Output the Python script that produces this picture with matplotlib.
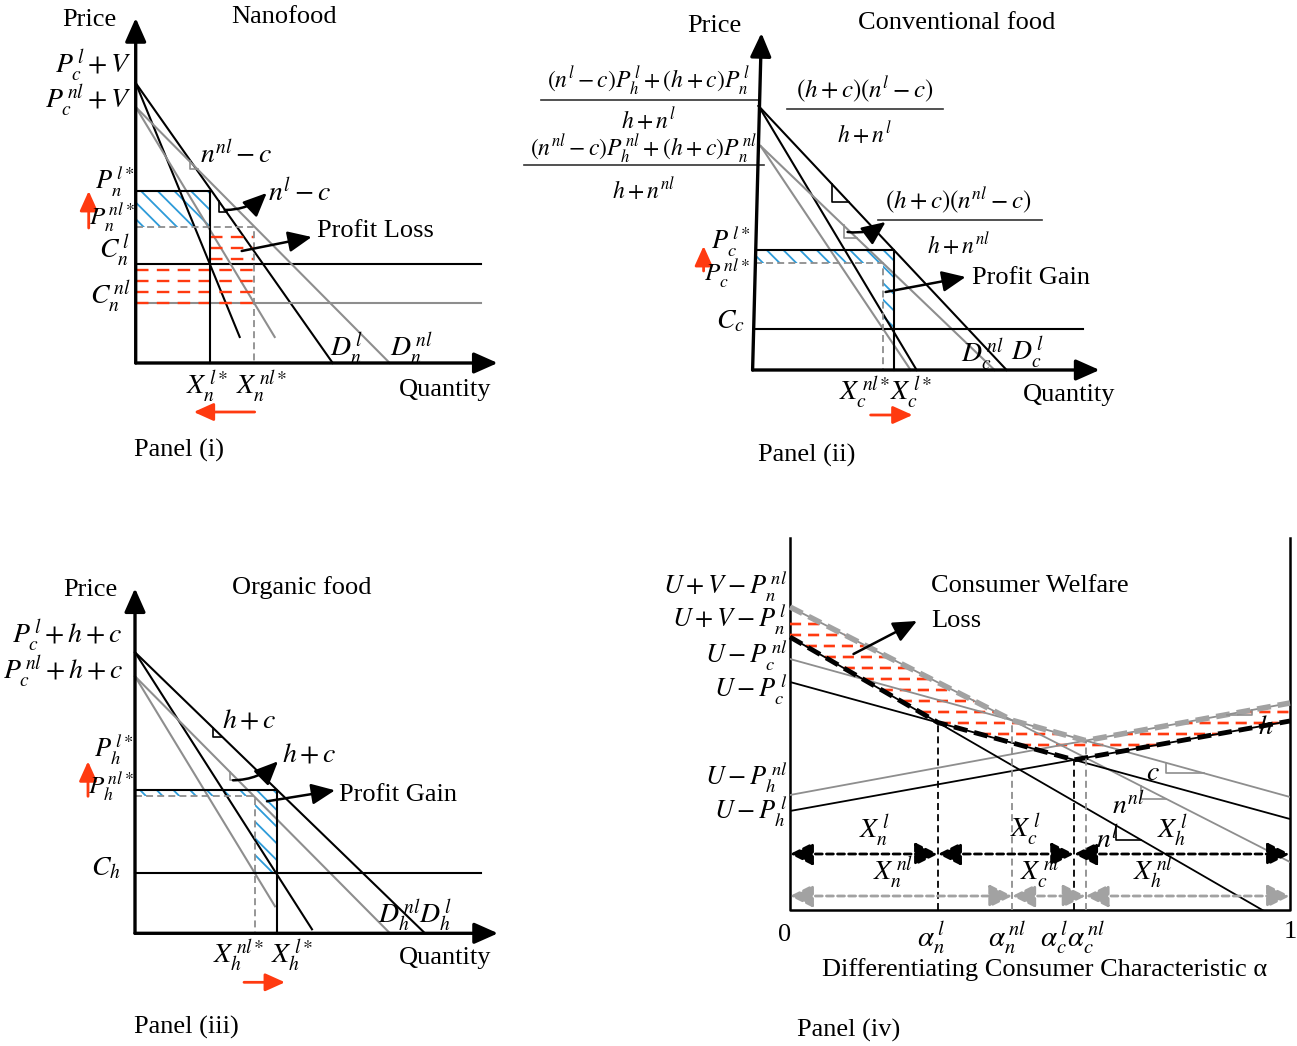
import numpy as np
import matplotlib.pyplot as plt
from matplotlib.patches import Rectangle

plt.rcParams['font.family'] = 'serif'
plt.rcParams['font.serif'] = ['Liberation Serif', 'DejaVu Serif']
plt.rcParams['mathtext.fontset'] = 'stix'
plt.rcParams['lines.scale_dashes'] = False
plt.rcParams['hatch.linewidth'] = 1.3

W, H = 1297, 1046
GRAY = '#8e8e8e'
RED = '#ff3a10'
BLUE = '#2d9bd9'

# ---- values (plot units) ----
# panel (i) nanofood: index 0 = labelling (l), index 1 = no labelling (nl)
nano_top = [280, 256]              # P_c + V intercepts
nano_dq = [197, 254]               # demand quantity intercepts
nano_mr = [(104, 26), (139, 26)]   # end points of the steep lines
nano_cost = [99, 60]
nano_q = [74, 118]
nano_p = [172, 136]

# panel (ii) conventional food (price axis slightly slanted)
conv_top = [(6, 264), (8, 224)]
conv_dq = [254, 242]
conv_mr = [164, 158]
conv_cost = 41
conv_q = [141, 130]
conv_p = [120, 107]

# panel (iii) organic food
org_top = [281, 257]
org_dq = [290, 255]
org_mr = [(177, 4), (140, 27)]
org_cost = 60
org_q = [142, 120]
org_p = [143, 137]

# panel (iv) utility at alpha = 0 and alpha = 1 : nano, conventional, organic
util_l = [(273, -16), (228, 91), (99, 189)]
util_nl = [(303, 48), (251, 113), (115, 207)]

fig = plt.figure(figsize=(W / 100, H / 100), dpi=100)


def panel(x0, y0, x1, y1, ox, oy):
    ax = fig.add_axes([x0 / W, 1 - y1 / H, (x1 - x0) / W, (y1 - y0) / H])
    ax.set_xlim(x0 - ox, x1 - ox)
    ax.set_ylim(oy - y1, oy - y0)
    ax.axis('off')
    return ax


def txt(ax, x, y, s, size=19, ha='left', va='center', **kw):
    ax.text(x, y, s, fontsize=size, ha=ha, va=va, clip_on=False, **kw)


def arrow(ax, start, end, color='k', lw=2.2, style='-|>,head_length=0.9,head_width=0.4',
          scale=16, **kw):
    ax.annotate('', xy=end, xytext=start,
                arrowprops=dict(arrowstyle=style, color=color, lw=lw, mutation_scale=scale,
                                shrinkA=0, shrinkB=0, **kw))


def red_arrow(ax, start, end):
    arrow(ax, start, end, color=RED, lw=2, style='-|>,head_length=1.0,head_width=0.45', scale=12)


def corner(ax, p0, p1, q1, q2, color, rising=False):
    # small right-angle mark on a straight line from p0 to p1
    f = lambda q: p0[1] + (p1[1] - p0[1]) * (q - p0[0]) / (p1[0] - p0[0])
    if rising:
        ax.plot([q1, q2, q2], [f(q1), f(q1), f(q2)], color=color, lw=1.2)
    else:
        ax.plot([q1, q1, q2], [f(q1), f(q2), f(q2)], color=color, lw=1.2)


def hatchbox(ax, x, y, w, h):
    ax.add_patch(Rectangle((x, y), w, h, fill=False, hatch='\\\\', edgecolor=BLUE, lw=0))


# ================= panel (i) nanofood =================
ax = panel(0, 0, 520, 470, 135.7, 363)
for k, col in enumerate(['k', GRAY]):
    ax.plot([0, nano_dq[k]], [nano_top[k], 0], color=col, lw=1.5)
    ax.plot([0, nano_mr[k][0]], [nano_top[k], nano_mr[k][1]], color=col, lw=1.5)
    ax.plot([0, 345], [nano_cost[k]] * 2, color=col, lw=1.5)
hatchbox(ax, 0, nano_p[1], nano_q[0], nano_p[0] - nano_p[1])
for lev in np.arange(nano_cost[1], nano_p[1], 11):
    x0 = 0 if lev < nano_cost[0] else nano_q[0]
    ax.plot([x0, nano_q[1]], [lev, lev], color=RED, lw=1.7, ls=(0, (9, 6)))
ax.plot([0, nano_q[0], nano_q[0]], [nano_p[0], nano_p[0], 0], color='k', lw=1.5)
ax.plot([0, nano_q[1], nano_q[1]], [nano_p[1], nano_p[1], 0], color=GRAY, lw=1.3, ls=(0, (5, 3)))
corner(ax, (0, nano_top[1]), (nano_dq[1], 0), 54, 62, GRAY)
corner(ax, (0, nano_top[0]), (nano_dq[0], 0), 83, 91, 'k')
arrow(ax, (0, 0), (0, 345), lw=2.4)
arrow(ax, (0, 0), (362, 0), lw=2.4)
arrow(ax, (89, 153), (131, 170), lw=1.8, connectionstyle='arc3,rad=0.2')
arrow(ax, (106, 112), (176, 126), lw=1.8)
red_arrow(ax, (-47, 135), (-47, 172))
red_arrow(ax, (119, -49), (58, -49))

txt(ax, -46, 343, 'Price', ha='center')
txt(ax, 148, 346, 'Nanofood', ha='center')
txt(ax, -4, 297, r'$P_c^{\,l}+V$', 20, ha='right')
txt(ax, -4, 262, r'$P_c^{\,nl}+V$', 20, ha='right')
txt(ax, 64, 208, r'$n^{nl}-c$', 20)
txt(ax, 132, 170, r'$n^{l}-c$', 20)
txt(ax, 181, 132, 'Profit Loss')
txt(ax, -2, 181, r'$P_n^{\,l*}$', 19, ha='right')
txt(ax, -1, 145, r'$P_n^{\,nl*}$', 18, ha='right')
txt(ax, -5, 112, r'$C_n^{\,l}$', 20, ha='right')
txt(ax, -5, 66, r'$C_n^{\,nl}$', 20, ha='right')
txt(ax, 194, 14, r'$D_n^{\,l}$', 20)
txt(ax, 254, 14, r'$D_n^{\,nl}$', 20)
txt(ax, nano_q[0] - 3, -24, r'$X_n^{\,l*}$', 20, ha='center')
txt(ax, nano_q[1] + 8, -24, r'$X_n^{\,nl*}$', 20, ha='center')
txt(ax, 309, -27, 'Quantity', ha='center')
txt(ax, -2, -87, 'Panel (i)')

# ================= panel (ii) conventional food =================
ax = panel(520, 0, 1297, 470, 752.6, 370)
axis_q = lambda p: 8.8 * p / 337   # slanted price axis
for k, col in enumerate(['k', GRAY]):
    ax.plot([conv_top[k][0], conv_dq[k]], [conv_top[k][1], 0], color=col, lw=1.5)
    ax.plot([conv_top[k][0], conv_mr[k]], [conv_top[k][1], 0], color=col, lw=1.5)
ax.plot([axis_q(conv_cost), 330], [conv_cost] * 2, 'k', lw=1.5)
hatchbox(ax, axis_q(conv_p[1]), conv_p[1], conv_q[0] - axis_q(conv_p[1]), conv_p[0] - conv_p[1])
hatchbox(ax, conv_q[1], conv_cost, conv_q[0] - conv_q[1], conv_p[1] - conv_cost)
ax.plot([axis_q(conv_p[0]), conv_q[0], conv_q[0]], [conv_p[0], conv_p[0], 0], 'k', lw=1.5)
ax.plot([axis_q(conv_p[1]), conv_q[1], conv_q[1]], [conv_p[1], conv_p[1], 0],
        color=GRAY, lw=1.3, ls=(0, (5, 3)))
corner(ax, conv_top[0], (conv_dq[0], 0), 79, 96, 'k')
corner(ax, conv_top[1], (conv_dq[1], 0), 91, 104, GRAY)
arrow(ax, (0, 0), (8.8, 337), lw=2.4)
arrow(ax, (0, 0), (347, 0), lw=2.4)
arrow(ax, (95, 138), (133, 148), lw=1.8, connectionstyle='arc3,rad=0.2')
arrow(ax, (133, 78), (213, 93), lw=1.8)
red_arrow(ax, (-49, 99), (-49, 124))
red_arrow(ax, (118, -45), (160, -45))


def frac(ax, xc, num, den, yl, x0, x1, size, dy_num=19, dy_den=25):
    txt(ax, xc, yl + dy_num, num, size, ha='center')
    ax.plot([x0, x1], [yl, yl], color='#333333', lw=1.2, clip_on=False)
    txt(ax, xc, yl - dy_den, den, 17, ha='center')


frac(ax, -104, r'$(n^{l}-c)P_h^{\,l}+(h+c)P_n^{\,l}$', r'$h+n^{l}$', 270, -212, 5, 17, 19, 20)
frac(ax, -109, r'$(n^{nl}-c)P_h^{\,nl}+(h+c)P_n^{\,nl}$', r'$h+n^{nl}$', 205, -229, 11, 17, 16)
frac(ax, 112, r'$(h+c)(n^{l}-c)$', r'$h+n^{l}$', 261, 34, 190, 18)
frac(ax, 206, r'$(h+c)(n^{nl}-c)$', r'$h+n^{nl}$', 150, 125, 289, 18)
txt(ax, -38, 344, 'Price', ha='center')
txt(ax, 204, 347, 'Conventional food', ha='center')
txt(ax, -2, 128, r'$P_c^{\,l*}$', 19, ha='right')
txt(ax, -3, 96, r'$P_c^{\,nl*}$', 18, ha='right')
txt(ax, -8, 48, r'$C_c$', 20, ha='right')
txt(ax, 219, 92, 'Profit Gain')
txt(ax, 208, 15, r'$D_c^{\,nl}$', 20)
txt(ax, 258, 17, r'$D_c^{\,l}$', 20)
txt(ax, conv_q[1] - 18, -23, r'$X_c^{\,nl*}$', 20, ha='center')
txt(ax, conv_q[0] + 17, -23, r'$X_c^{\,l*}$', 20, ha='center')
txt(ax, 317, -25, 'Quantity', ha='center')
txt(ax, 54, -85, 'Panel (ii)', ha='center')

# ================= panel (iii) organic food =================
ax = panel(0, 530, 640, 1046, 135, 933.3)
for k, col in enumerate(['k', GRAY]):
    ax.plot([0, org_dq[k]], [org_top[k], 0], color=col, lw=1.5)
    ax.plot([0, org_mr[k][0]], [org_top[k], org_mr[k][1]], color=col, lw=1.5)
ax.plot([0, 346], [org_cost] * 2, 'k', lw=1.5)
hatchbox(ax, 0, org_p[1], org_q[0], org_p[0] - org_p[1])
hatchbox(ax, org_q[1], org_cost, org_q[0] - org_q[1], org_p[1] - org_cost)
ax.plot([0, org_q[0], org_q[0]], [org_p[0], org_p[0], 0], 'k', lw=1.5)
ax.plot([0, org_q[1], org_q[1]], [org_p[1], org_p[1], 0], color=GRAY, lw=1.3, ls=(0, (5, 3)))
corner(ax, (0, org_top[0]), (org_dq[0], 0), 78, 87, 'k')
corner(ax, (0, org_top[1]), (org_dq[1], 0), 95, 103, GRAY)
arrow(ax, (0, 0), (0, 345), lw=2.4)
arrow(ax, (0, 0), (363, 0), lw=2.4)
arrow(ax, (98, 153), (143, 172), lw=1.8, connectionstyle='arc3,rad=0.2')
arrow(ax, (132, 132), (200, 143), lw=1.8)
red_arrow(ax, (-47, 137), (-47, 172))
red_arrow(ax, (109, -49), (150, -49))

txt(ax, -45, 343, 'Price', ha='center')
txt(ax, 167, 346, 'Organic food', ha='center')
txt(ax, -12, 297, r'$P_c^{\,l}+h+c$', 20, ha='right')
txt(ax, -12, 261, r'$P_c^{\,nl}+h+c$', 20, ha='right')
txt(ax, 87, 212, r'$h+c$', 20)
txt(ax, 147, 178, r'$h+c$', 20)
txt(ax, 204, 138, 'Profit Gain')
txt(ax, -2, 183, r'$P_h^{\,l*}$', 19, ha='right')
txt(ax, -1, 147, r'$P_h^{\,nl*}$', 18, ha='right')
txt(ax, -14, 65, r'$C_h$', 20, ha='right')
txt(ax, 243, 17, r'$D_h^{\,nl}$', 20)
txt(ax, 284, 17, r'$D_h^{\,l}$', 20)
txt(ax, org_q[1] - 16, -23, r'$X_h^{\,nl*}$', 20, ha='center')
txt(ax, org_q[0] + 15, -23, r'$X_h^{\,l*}$', 20, ha='center')
txt(ax, 310, -25, 'Quantity', ha='center')
txt(ax, 51, -94, 'Panel (iii)', ha='center')

# ================= panel (iv) consumer choice =================
ax = fig.add_axes([640 / W, 0, 657 / W, 516 / H])
ax.set_xlim(-0.3, 1.014)
ax.set_ylim(-136, 380)
ax.axis('off')
TOP = 372
ax.plot([0, 0, 1, 1], [TOP, 0, 0, TOP], 'k', lw=1.8)


def ufun(line, a):
    return line[0] + (line[1] - line[0]) * a


def cross(l1, l2):
    d0, d1 = l1[0] - l2[0], l1[1] - l2[1]
    return d0 / (d0 - d1)


def envelope(lines):
    a1, a2 = cross(lines[0], lines[1]), cross(lines[1], lines[2])
    return [0, a1, a2, 1], [lines[0][0], ufun(lines[1], a1), ufun(lines[1], a2), lines[2][1]]


benv = envelope(util_l)
genv = envelope(util_nl)
al1, al2 = benv[0][1], benv[0][2]
anl1, anl2 = genv[0][1], genv[0][2]

grid = np.linspace(0, 1, 2001)
be = np.interp(grid, *benv)
ge = np.interp(grid, *genv)
for lev in np.arange(286, 160, -11):
    m = (be < lev) & (ge > lev)
    ax.plot(grid, np.where(m, lev, np.nan), color=RED, lw=1.9, ls=(0, (8, 5)))

clip = Rectangle((0, 0), 1, TOP, transform=ax.transData)
for lines, col in ((util_nl, GRAY), (util_l, 'k')):
    for line in lines:
        ln, = ax.plot([0, 1], line, color=col, lw=1.3)
        ln.set_clip_path(clip)

ax.plot(*genv, color='#a2a2a2', lw=4, ls=(0, (10, 5)))
ax.plot(*benv, color='k', lw=3.5, ls=(0, (10, 5)))

for a, env, col in [(al1, benv, 'k'), (al2, benv, 'k'), (anl1, genv, GRAY), (anl2, genv, GRAY)]:
    ax.plot([a, a], [0, np.interp(a, *env)], color=col, lw=1.3, ls=(0, (5, 3)))

for xs, u, col in [([0, al1, al2, 1], 56, 'k'), ([0, anl1, anl2, 1], 14, '#a2a2a2')]:
    for a, b in zip(xs[:-1], xs[1:]):
        ax.annotate('', xy=(b, u), xytext=(a, u),
                    arrowprops=dict(arrowstyle='<|-|>,head_length=0.7,head_width=0.35',
                                    color=col, lw=2, ls=(0, (5, 3)), mutation_scale=20,
                                    shrinkA=0, shrinkB=0))

corner(ax, (0, util_nl[2][0]), (1, util_nl[2][1]), 0.873, 0.923, GRAY, rising=True)
corner(ax, (0, util_nl[1][0]), (1, util_nl[1][1]), 0.752, 0.827, GRAY)
corner(ax, (0, util_nl[0][0]), (1, util_nl[0][1]), 0.701, 0.752, GRAY)
corner(ax, (0, util_l[0][0]), (1, util_l[0][1]), 0.651, 0.701, 'k')

arrow(ax, (0.127, 256), (0.254, 289), lw=1.8)
txt(ax, 0.282, 324, 'Consumer Welfare')
txt(ax, 0.282, 289, 'Loss')

for s, u in [(r'$U+V-P_n^{\,nl}$', 323), (r'$U+V-P_n^{\,l}$', 290),
             (r'$U-P_c^{\,nl}$', 254), (r'$U-P_c^{\,l}$', 220),
             (r'$U-P_h^{\,nl}$', 132), (r'$U-P_h^{\,l}$', 98)]:
    txt(ax, -0.006, u, s, 19, ha='right')

txt(ax, 0.935, 182, r'$h$', 20)
txt(ax, 0.712, 136, r'$c$', 20)
txt(ax, 0.645, 104, r'$n^{nl}$', 20)
txt(ax, 0.612, 70, r'$n^{l}$', 20)

txt(ax, 0.169, 79, r'$X_n^{\,l}$', 20, ha='center')
txt(ax, 0.47, 80, r'$X_c^{\,l}$', 20, ha='center')
txt(ax, 0.764, 79, r'$X_h^{\,l}$', 20, ha='center')
txt(ax, 0.207, 37, r'$X_n^{\,nl}$', 20, ha='center')
txt(ax, 0.50, 37, r'$X_c^{\,nl}$', 20, ha='center')
txt(ax, 0.726, 37, r'$X_h^{\,nl}$', 20, ha='center')

txt(ax, -0.01, -25, '0', ha='center')
txt(ax, 1.0, -22, '1', ha='center')
txt(ax, al1 - 0.014, -28, r'$\alpha_n^{\,l}$', 21, ha='center')
txt(ax, anl1 - 0.01, -28, r'$\alpha_n^{\,nl}$', 21, ha='center')
txt(ax, al2 - 0.04, -28, r'$\alpha_c^{\,l}$', 21, ha='center')
txt(ax, anl2 + 0.0, -28, r'$\alpha_c^{\,nl}$', 21, ha='center')
txt(ax, 0.51, -60, 'Differentiating Consumer Characteristic α', ha='center')
txt(ax, 0.014, -120, 'Panel (iv)')

fig.savefig('out.png', dpi=100)
